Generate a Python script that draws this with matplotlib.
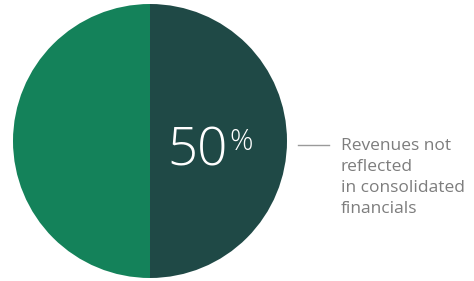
import matplotlib.pyplot as plt

# share of revenues
shares = [50, 50]
colors = ['#1f4946', '#14825a']
pct_label = '50'
label_text = 'Revenues not\nreflected\nin consolidated\nfinancials'

W, H = 474, 281
fig = plt.figure(figsize=(W / 100, H / 100), dpi=100)
fig.patch.set_facecolor('white')

# pie axes, in pixel units of the figure
d = 274
ax = fig.add_axes([13 / W, (H - 278) / H, d / W, d / H])
ax.pie(shares, colors=colors, startangle=90, counterclock=False,
       wedgeprops=dict(linewidth=0))
ax.set_xlim(-1, 1)
ax.set_ylim(-1, 1)
ax.set_aspect('equal')
ax.axis('off')

# big percentage in the dark half
fig.text(167 / W, 1 - 165 / H, pct_label, color='white', fontsize=38,
         family='Open Sans', weight='light', ha='left', va='baseline')
fig.text(229 / W, 1 - 150 / H, '%', color='white', fontsize=21,
         family='Open Sans', weight='light', ha='left', va='baseline')

# leader line and label
fig.add_artist(plt.Line2D([298 / W, 329 / W], [1 - 145 / H, 1 - 145 / H],
                          color='#9a9a9a', linewidth=1))
fig.text(341 / W, 1 - 138 / H, label_text, color='#7d7d7d', fontsize=12.5,
         family='Open Sans', ha='left', va='top', linespacing=1.42,
         multialignment='left')

fig.savefig('out.png', dpi=100)
